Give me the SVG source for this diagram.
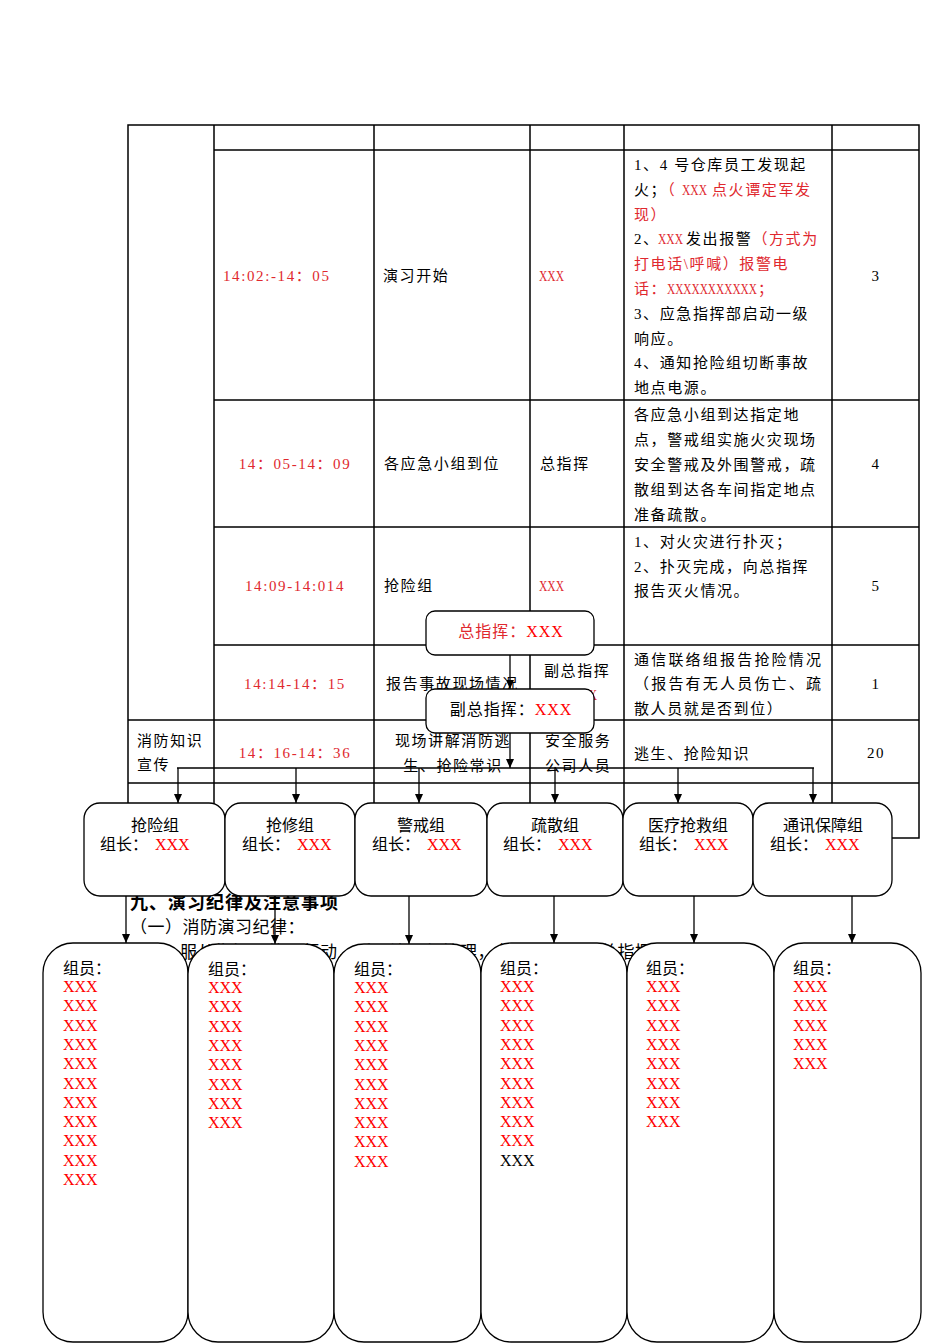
<svg xmlns="http://www.w3.org/2000/svg" width="950" height="1344" viewBox="0 0 950 1344">
<defs>
<style>
.tl{stroke:#000;stroke-width:1.5;fill:none}
.t{font-family:"Liberation Serif","Noto Sans CJK SC",serif;font-size:15px;letter-spacing:1.6px;fill:#000}
.r{fill:#e0282e}
.mx{font-family:"Liberation Serif",serif;font-size:15px;letter-spacing:0}
.c{text-anchor:middle}
.bg{font-family:"Liberation Serif","Noto Sans CJK SC",serif;font-size:17px;letter-spacing:0.5px;fill:#000}
.bgb{font-family:"Noto Sans CJK SC",sans-serif;font-size:18px;letter-spacing:1px;font-weight:bold;fill:#000}
.box{fill:#fff;stroke:#000;stroke-width:1.3}
.bt{font-family:"Liberation Serif","Noto Sans CJK SC",serif;font-size:16px;fill:#000}
.rx{fill:#ff0000}
.con{stroke:#000;stroke-width:1.3;fill:none}
</style>
<marker id="ah" markerUnits="userSpaceOnUse" markerWidth="9" markerHeight="8" refX="9" refY="4" orient="auto">
<path d="M0,0 L9,4 L0,8 z" fill="#000"/>
</marker>
</defs>
<rect width="950" height="1344" fill="#fff"/>

<g id="table">
<rect class="tl" x="128" y="125" width="791" height="713"/>
<path class="tl" d="M214,125V838 M374,125V838 M530,125V838 M624,125V838 M832,125V838 M214,150H919 M214,400H919 M214,527H919 M214,645H919 M128,720H919 M128,783H919"/>

<text class="t r" x="223" y="281">14:02:-14：05</text>
<text class="t" x="383" y="281">演习开始</text>
<text class="mx r" transform="translate(539,281) scale(0.77,1)">XXX</text>
<text class="t" x="634" y="170">1、4 号仓库员工发现起</text>
<text class="t" x="634" y="195">火；<tspan class="r">（</tspan></text>
<text class="mx r" transform="translate(682,195) scale(0.77,1)">XXX</text>
<text class="t r" x="712" y="195">点火谭定军发</text>
<text class="t r" x="634" y="220">现）</text>
<text class="t" x="634" y="244">2、</text>
<text class="mx r" transform="translate(658,244) scale(0.77,1)">XXX</text>
<text class="t" x="686" y="244">发出报警<tspan class="r">（方式为</tspan></text>
<text class="t r" x="634" y="269">打电话\呼喊）报警电</text>
<text class="t r" x="634" y="294">话：</text>
<text class="mx r" transform="translate(667,294) scale(0.755,1)">XXXXXXXXXXX</text>
<text class="t r" x="758" y="294">；</text>
<text class="t" x="634" y="319">3、应急指挥部启动一级</text>
<text class="t" x="634" y="344">响应。</text>
<text class="t" x="634" y="368">4、通知抢险组切断事故</text>
<text class="t" x="634" y="393">地点电源。</text>
<text class="t c" x="876" y="281">3</text>

<text class="t r c" x="295" y="469">14：05-14：09</text>
<text class="t" x="384" y="469">各应急小组到位</text>
<text class="t" x="540" y="469">总指挥</text>
<text class="t" x="634" y="420">各应急小组到达指定地</text>
<text class="t" x="634" y="445">点，警戒组实施火灾现场</text>
<text class="t" x="634" y="470">安全警戒及外围警戒，疏</text>
<text class="t" x="634" y="495">散组到达各车间指定地点</text>
<text class="t" x="634" y="520">准备疏散。</text>
<text class="t c" x="876" y="469">4</text>

<text class="t r c" x="295" y="591">14:09-14:014</text>
<text class="t" x="384" y="591">抢险组</text>
<text class="mx r" transform="translate(539,591) scale(0.77,1)">XXX</text>
<text class="t" x="634" y="547">1、对火灾进行扑灭；</text>
<text class="t" x="634" y="572">2、扑灭完成，向总指挥</text>
<text class="t" x="634" y="596">报告灭火情况。</text>
<text class="t c" x="876" y="591">5</text>

<text class="t r c" x="295" y="689">14:14-14：15</text>
<text class="t" x="386" y="689">报告事故现场情况</text>
<text class="t" x="544" y="676">副总指挥</text>
<text class="mx r" transform="translate(572,700) scale(0.77,1)">XXX</text>
<text class="t" x="634" y="665" style="letter-spacing:2.2px">通信联络组报告抢险情况</text>
<text class="t" x="634" y="689" style="letter-spacing:2.2px">（报告有无人员伤亡、疏</text>
<text class="t" x="634" y="714">散人员就是否到位）</text>
<text class="t c" x="876" y="689">1</text>

<text class="t" x="137" y="746">消防知识</text>
<text class="t" x="137" y="770">宣传</text>
<text class="t r c" x="295" y="758">14：16-14：36</text>
<text class="t c" x="453" y="746">现场讲解消防逃</text>
<text class="t c" x="453" y="771">生、抢险常识</text>
<text class="t" x="545" y="746">安全服务</text>
<text class="t" x="545" y="771">公司人员</text>
<text class="t" x="634" y="759">逃生、抢险知识</text>
<text class="t c" x="876" y="758">20</text>
</g>

<g id="body-text">
<text class="bgb" x="130" y="909">九、演习纪律及注意事项</text>
<text class="bg" x="130" y="933">（一）消防演习纪律：</text>
<text class="bg" x="180" y="958">服从指挥，统一行动，听从演习组管理，各小组要听从总指挥的命令。</text>
</g>

<g id="connectors">
<line class="con" x1="510" y1="655" x2="510" y2="689" marker-end="url(#ah)"/>
<line class="con" x1="510" y1="733" x2="510" y2="768" marker-end="url(#ah)"/>
<line class="con" x1="177" y1="768" x2="814" y2="768"/>
<line class="con" x1="178" y1="768" x2="178" y2="803" marker-end="url(#ah)"/>
<line class="con" x1="296" y1="768" x2="296" y2="803" marker-end="url(#ah)"/>
<line class="con" x1="419" y1="768" x2="419" y2="803" marker-end="url(#ah)"/>
<line class="con" x1="555" y1="768" x2="555" y2="803" marker-end="url(#ah)"/>
<line class="con" x1="678" y1="768" x2="678" y2="803" marker-end="url(#ah)"/>
<line class="con" x1="813" y1="768" x2="813" y2="803" marker-end="url(#ah)"/>
<line class="con" x1="126" y1="896" x2="126" y2="943" marker-end="url(#ah)"/>
<line class="con" x1="275" y1="896" x2="275" y2="944" marker-end="url(#ah)"/>
<line class="con" x1="409" y1="896" x2="409" y2="944" marker-end="url(#ah)"/>
<line class="con" x1="554" y1="896" x2="554" y2="943" marker-end="url(#ah)"/>
<line class="con" x1="694" y1="896" x2="694" y2="943" marker-end="url(#ah)"/>
<line class="con" x1="852" y1="896" x2="852" y2="943" marker-end="url(#ah)"/>
</g>

<g id="commander">
<rect class="box" x="426" y="611" width="168" height="44" rx="9"/>
<text class="bt c" x="511" y="637" style="letter-spacing:1px"><tspan fill="#e0282e">总指挥：</tspan><tspan class="rx">XXX</tspan></text>
</g>
<g id="deputy">
<rect class="box" x="426" y="689" width="168" height="44" rx="9"/>
<text class="bt c" x="511" y="715" style="letter-spacing:1px">副总指挥：<tspan class="rx">XXX</tspan></text>
</g>

<g id="g-qiangxian">
<rect class="box" x="84" y="803" width="141" height="93" rx="16"/>
<text class="bt c" x="155" y="831">抢险组</text>
<text class="bt" x="100" y="850">组长：<tspan class="rx" x="155">XXX</tspan></text>
</g>
<g id="g-qiangxiu">
<rect class="box" x="225" y="803" width="130" height="93" rx="16"/>
<text class="bt c" x="290" y="831">抢修组</text>
<text class="bt" x="242" y="850">组长：<tspan class="rx" x="297">XXX</tspan></text>
</g>
<g id="g-jingjie">
<rect class="box" x="355" y="803" width="132" height="93" rx="16"/>
<text class="bt c" x="421" y="831">警戒组</text>
<text class="bt" x="372" y="850">组长：<tspan class="rx" x="427">XXX</tspan></text>
</g>
<g id="g-shusan">
<rect class="box" x="487" y="803" width="136" height="93" rx="16"/>
<text class="bt c" x="555" y="831">疏散组</text>
<text class="bt" x="503" y="850">组长：<tspan class="rx" x="558">XXX</tspan></text>
</g>
<g id="g-yiliao">
<rect class="box" x="623" y="803" width="130" height="93" rx="16"/>
<text class="bt c" x="688" y="831">医疗抢救组</text>
<text class="bt" x="639" y="850">组长：<tspan class="rx" x="694">XXX</tspan></text>
</g>
<g id="g-tongxun">
<rect class="box" x="753" y="803" width="139" height="93" rx="16"/>
<text class="bt c" x="823" y="831">通讯保障组</text>
<text class="bt" x="770" y="850">组长：<tspan class="rx" x="825">XXX</tspan></text>
</g>

<g id="m-qiangxian">
<rect class="box" x="43" y="943" width="145" height="399" rx="30"/>
<text class="bt" x="63" y="974">组员：</text>
<text class="bt rx" x="63">
<tspan x="63" y="992">XXX</tspan><tspan x="63" y="1011.3">XXX</tspan><tspan x="63" y="1030.6">XXX</tspan><tspan x="63" y="1049.9">XXX</tspan><tspan x="63" y="1069.2">XXX</tspan><tspan x="63" y="1088.5">XXX</tspan><tspan x="63" y="1107.8">XXX</tspan><tspan x="63" y="1127.1">XXX</tspan><tspan x="63" y="1146.4">XXX</tspan><tspan x="63" y="1165.7">XXX</tspan><tspan x="63" y="1185">XXX</tspan>
</text>
</g>
<g id="m-qiangxiu">
<rect class="box" x="188" y="944" width="146" height="398" rx="30"/>
<text class="bt" x="208" y="975">组员：</text>
<text class="bt rx" x="208">
<tspan x="208" y="993">XXX</tspan><tspan x="208" y="1012.3">XXX</tspan><tspan x="208" y="1031.6">XXX</tspan><tspan x="208" y="1050.9">XXX</tspan><tspan x="208" y="1070.2">XXX</tspan><tspan x="208" y="1089.5">XXX</tspan><tspan x="208" y="1108.8">XXX</tspan><tspan x="208" y="1128.1">XXX</tspan>
</text>
</g>
<g id="m-jingjie">
<rect class="box" x="334" y="944" width="147" height="398" rx="30"/>
<text class="bt" x="354" y="975">组员：</text>
<text class="bt rx" x="354">
<tspan x="354" y="993">XXX</tspan><tspan x="354" y="1012.3">XXX</tspan><tspan x="354" y="1031.6">XXX</tspan><tspan x="354" y="1050.9">XXX</tspan><tspan x="354" y="1070.2">XXX</tspan><tspan x="354" y="1089.5">XXX</tspan><tspan x="354" y="1108.8">XXX</tspan><tspan x="354" y="1128.1">XXX</tspan><tspan x="354" y="1147.4">XXX</tspan><tspan x="354" y="1166.7">XXX</tspan>
</text>
</g>
<g id="m-shusan">
<rect class="box" x="481" y="943" width="146" height="399" rx="30"/>
<text class="bt" x="500" y="974">组员：</text>
<text class="bt rx" x="500">
<tspan x="500" y="992">XXX</tspan><tspan x="500" y="1011.3">XXX</tspan><tspan x="500" y="1030.6">XXX</tspan><tspan x="500" y="1049.9">XXX</tspan><tspan x="500" y="1069.2">XXX</tspan><tspan x="500" y="1088.5">XXX</tspan><tspan x="500" y="1107.8">XXX</tspan><tspan x="500" y="1127.1">XXX</tspan><tspan x="500" y="1146.4">XXX</tspan>
</text>
<text class="bt" x="500" y="1165.7">XXX</text>
</g>
<g id="m-yiliao">
<rect class="box" x="627" y="943" width="147" height="399" rx="30"/>
<text class="bt" x="646" y="974">组员：</text>
<text class="bt rx" x="646">
<tspan x="646" y="992">XXX</tspan><tspan x="646" y="1011.3">XXX</tspan><tspan x="646" y="1030.6">XXX</tspan><tspan x="646" y="1049.9">XXX</tspan><tspan x="646" y="1069.2">XXX</tspan><tspan x="646" y="1088.5">XXX</tspan><tspan x="646" y="1107.8">XXX</tspan><tspan x="646" y="1127.1">XXX</tspan>
</text>
</g>
<g id="m-tongxun">
<rect class="box" x="774" y="943" width="147" height="399" rx="30"/>
<text class="bt" x="793" y="974">组员：</text>
<text class="bt rx" x="793">
<tspan x="793" y="992">XXX</tspan><tspan x="793" y="1011.3">XXX</tspan><tspan x="793" y="1030.6">XXX</tspan><tspan x="793" y="1049.9">XXX</tspan><tspan x="793" y="1069.2">XXX</tspan>
</text>
</g>
</svg>
